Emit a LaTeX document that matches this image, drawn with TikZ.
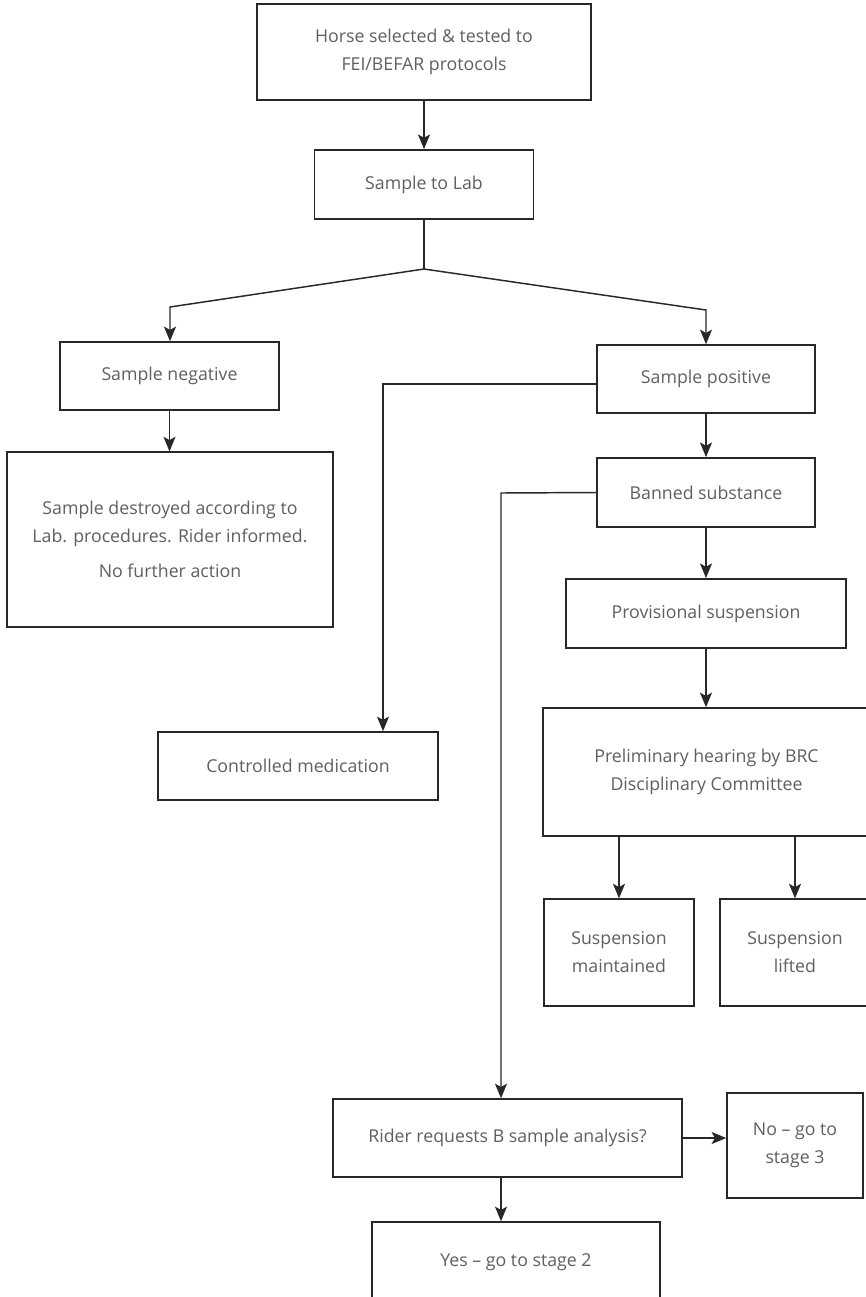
\documentclass[tikz,border=0pt]{standalone}
\usepackage{fontspec}
\setmainfont{Open Sans}
\definecolor{boxline}{RGB}{40, 40, 40}
\definecolor{boxtext}{RGB}{95, 95, 95}
\usetikzlibrary{arrows.meta}

\begin{document}
\begin{tikzpicture}[
        x=0.75pt, y=-0.75pt,
        box/.style={rectangle, draw=boxline, line width=1.1pt, text=boxtext, align=center, inner sep=0pt, font=\fontsize{13.3}{21}\selectfont},
        arrow/.style={-{Stealth[length=11pt, width=9pt, inset=2.5pt]}, line width=1.1pt, boxline},
        link/.style={line width=1.1pt, boxline}
    ]
        \useasboundingbox (0,0) rectangle (866,1297);
        \clip (0,0) rectangle (866,1297);

        \node[box, minimum width=250.5pt, minimum height=72pt] (horse) at (424,52) {Horse selected \& tested to\\FEI/BEFAR protocols};
        \node[box, minimum width=164pt, minimum height=52pt] (lab) at (424,184.5) {Sample to Lab};
        \node[box, minimum width=164pt, minimum height=51pt] (neg) at (169.5,376) {Sample negative};
        \node[box, minimum width=244.5pt, minimum height=131pt] (destroyed) at (170,539.5) {Sample destroyed according to\\Lab. procedures. Rider informed.\\[5pt]No further action};
        \node[box, minimum width=163.5pt, minimum height=51pt] (pos) at (706,379) {Sample positive};
        \node[box, minimum width=163.5pt, minimum height=52pt] (banned) at (706,492.5) {Banned substance};
        \node[box, minimum width=210pt, minimum height=52pt] (prov) at (706,613.5) {Provisional suspension};
        \node[box, minimum width=245pt, minimum height=96pt] (prelim) at (706.5,772) {Preliminary hearing by BRC\\Disciplinary Committee};
        \node[box, minimum width=112.5pt, minimum height=80pt] (maint) at (619,952.5) {Suspension\\maintained};
        \node[box, minimum width=112.5pt, minimum height=80pt] (lifted) at (795,952.5) {Suspension\\lifted};
        \node[box, minimum width=210pt, minimum height=51pt] (medic) at (298,766) {Controlled medication};
        \node[box, minimum width=262pt, minimum height=58.5pt] (rider) at (507.5,1138) {Rider requests B sample analysis?};
        \node[box, minimum width=102pt, minimum height=79pt] (nostage) at (795,1145.5) {No \textendash{} go to\\stage 3};
        \node[box, minimum width=216pt, minimum height=60pt] (yesstage) at (516,1262) {Yes \textendash{} go to stage 2};

        \coordinate (split) at (424,269);
        \coordinate (splitL) at (170,307);
        \coordinate (splitR) at (706,310);
        \coordinate (medturn) at (383,384);
        \coordinate (banturn) at (501,493);

        \draw[arrow] (horse) -- (lab);
        \draw[link] (lab) -- (split);
        \draw[arrow] (split) -- (splitL) -- (splitL |- neg.north);
        \draw[arrow] (split) -- (splitR) -- (splitR |- pos.north);
        \draw[arrow] (neg.south) -- (neg.south |- destroyed.north);
        \draw[arrow] (pos.west |- medturn) -- (medturn) -- (medturn |- medic.north);
        \draw[arrow] (pos) -- (banned);
        \draw[arrow] (banned) -- (prov);
        \draw[arrow] (prov.south) -- (prov.south |- prelim.north);
        \draw[arrow] (maint.north |- prelim.south) -- (maint);
        \draw[arrow] (lifted.north |- prelim.south) -- (lifted);
        \draw[arrow] (banned.west) -- (banturn) -- (banturn |- rider.north);
        \draw[arrow] (rider.east) -- (rider.east -| nostage.west);
        \draw[arrow] (banturn |- rider.south) -- (banturn |- yesstage.north);
    \end{tikzpicture}
\end{document}
